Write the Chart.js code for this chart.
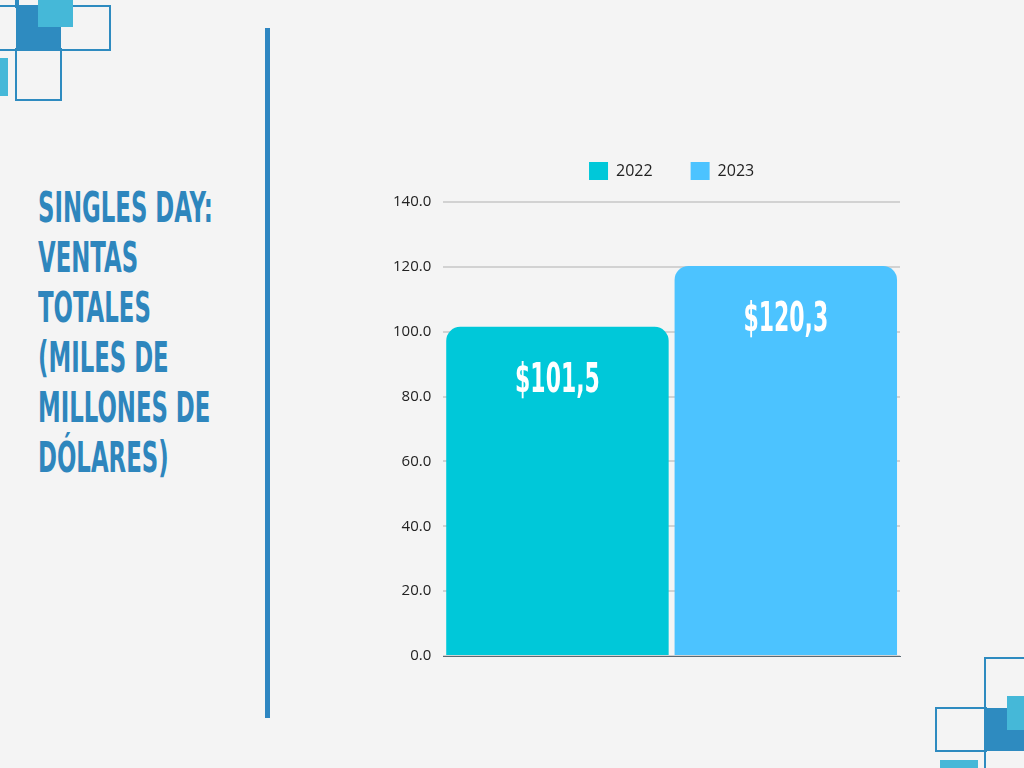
<!DOCTYPE html>
<html>
<head>
<meta charset="utf-8">
<script src="https://cdn.jsdelivr.net/npm/chart.js@4.4.1/dist/chart.umd.min.js"></script>
<style>
  html, body { margin:0; padding:0; background:#F4F4F4; width:1024px; height:768px; overflow:hidden; }
  .d { position:absolute; box-sizing:border-box; }
  .o { border:2px solid #2E8BC0; }
  .f1 { background:#2E8BC0; }
  .f2 { background:#45B8D8; }
  #title { position:absolute; left:38px; top:182px; font-family:"DejaVu Sans Condensed","Liberation Sans Narrow",sans-serif; font-weight:bold; font-size:43px; line-height:50px; color:#2E86BD; letter-spacing:0px; transform-origin:0 0; transform:scaleX(0.59); white-space:nowrap; }
  #vline { position:absolute; left:265px; top:28px; width:5px; height:690px; background:#2E86C1; }
  #wrap { position:absolute; left:381px; top:124px; width:529px; height:553px; }
</style>
</head>
<body>
<div class="d o" style="left:-2px;top:5px;width:113px;height:46px;"></div>
<div class="d o" style="left:15px;top:48px;width:47px;height:53px;"></div>
<div class="d o" style="left:15px;top:-2px;width:2px;height:10px;"></div>
<div class="d f1" style="left:16px;top:6px;width:45px;height:44px;"></div>
<div class="d f2" style="left:38px;top:0px;width:35px;height:27px;"></div>
<div class="d f2" style="left:0px;top:58px;width:8px;height:38px;"></div>

<div class="d o" style="left:984px;top:657px;width:44px;height:120px;"></div>
<div class="d o" style="left:935px;top:707px;width:52px;height:45px;"></div>
<div class="d f1" style="left:985px;top:708px;width:39px;height:43px;"></div>
<div class="d f2" style="left:1007px;top:696px;width:17px;height:34px;"></div>
<div class="d f2" style="left:940px;top:760px;width:38px;height:8px;"></div>

<div id="title">SINGLES DAY:<br>VENTAS<br>TOTALES<br>(MILES DE<br>MILLONES DE<br>DÓLARES)</div>
<div id="vline"></div>
<div id="wrap"><canvas id="c"></canvas></div>

<script>
const categories = ['Singles Day'];
const seriesNames = ['2022', '2023'];
const seriesValues = [[101.5], [120.3]];
const valueLabels = ['$101,5', '$120,3'];
const seriesColors = ['#00C8D9', '#4CC3FF'];

const legendGap = {
  id: 'legendGap',
  beforeInit(chart) {
    const orig = chart.legend.fit;
    chart.legend.fit = function () { orig.bind(chart.legend)(); this.height += 12; };
  }
};

const barLabels = {
  id: 'barLabels',
  afterDatasetsDraw(chart) {
    const ctx = chart.ctx;
    ctx.save();
    ctx.fillStyle = '#FFFFFF';
    ctx.textAlign = 'center';
    ctx.textBaseline = 'middle';
    ctx.font = 'bold 40px "DejaVu Sans Condensed", "Liberation Sans Narrow", sans-serif';
    chart.data.datasets.forEach((ds, i) => {
      const el = chart.getDatasetMeta(i).data[0];
      ctx.save();
      ctx.translate(el.x, el.y + 55);
      ctx.scale(0.61, 1);
      ctx.fillText(valueLabels[i], 0, 0);
      ctx.restore();
    });
    ctx.restore();
  }
};

new Chart(document.getElementById('c'), {
  type: 'bar',
  data: {
    labels: categories,
    datasets: seriesNames.map((n, i) => ({
      label: n,
      data: seriesValues[i],
      backgroundColor: seriesColors[i],
      borderRadius: { topLeft: 14, topRight: 14 },
      borderSkipped: 'bottom',
      categoryPercentage: 1,
      barPercentage: 0.974
    }))
  },
  options: {
    responsive: true,
    maintainAspectRatio: false,
    animation: false,
    layout: { padding: { left: 0, right: 10, top: 0, bottom: 0 } },
    plugins: {
      legend: {
        position: 'top',
        fullSize: false,
        labels: {
          boxWidth: 19, boxHeight: 18, padding: 38,
          color: '#222', font: { family: '"Open Sans", sans-serif', size: 16 }
        }
      },
      tooltip: { enabled: false }
    },
    scales: {
      x: {
        ticks: { display: false },
        grid: { display: false, drawTicks: false },
        border: { display: true, color: '#5A6A75', width: 1 }
      },
      y: {
        min: 0, max: 140,
        ticks: { stepSize: 20, padding: 12, color: '#222', font: { family: '"Open Sans", sans-serif', size: 15 },
                 callback: v => v.toFixed(1) },
        grid: { color: '#D2D2D2', lineWidth: 2, drawTicks: false },
        border: { display: false }
      }
    }
  },
  plugins: [legendGap, barLabels]
});
</script>
</body>
</html>
